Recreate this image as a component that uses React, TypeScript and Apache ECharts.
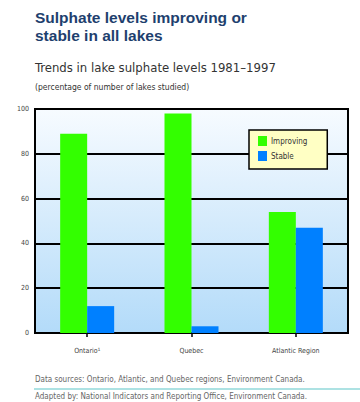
import React, { useEffect, useRef } from "react";
import * as echarts from "echarts";

// Share of lakes studied (%), 1981–1997
const regions = ["Ontario¹", "Quebec", "Atlantic Region"];
const improving = [89, 98, 54];
const stable = [12, 3, 47];
const yTicks = { min: 0, max: 100, interval: 20 };

const titleLines = ["Sulphate levels improving or", "stable in all lakes"];
const subtitle = "Trends in lake sulphate levels 1981–1997";
const unitNote = "(percentage of number of lakes studied)";
const sourceNote = "Data sources: Ontario, Atlantic, and Quebec regions, Environment Canada.";
const adaptedNote = "Adapted by: National Indicators and Reporting Office, Environment Canada.";

const NARROW = '"Liberation Sans Narrow", "DejaVu Sans Condensed", "DejaVu Sans", sans-serif';
const HEAD = '"Liberation Sans", Arial, sans-serif';

export default function App() {
  const ref = useRef<HTMLDivElement>(null);

  useEffect(() => {
    document.body.style.margin = "0";
    if (!ref.current) return;
    const chart = echarts.init(ref.current, undefined, { renderer: "svg" });
    chart.setOption({
      animation: false,
      backgroundColor: "#ffffff",
      grid: {
        left: 35,
        right: 12,
        top: 109,
        bottom: 69,
        show: true,
        borderColor: "#000000",
        borderWidth: 2,
        backgroundColor: new echarts.graphic.LinearGradient(0, 0, 0, 1, [
          { offset: 0, color: "#f7fbff" },
          { offset: 1, color: "#b3dbf9" },
        ]),
      },
      legend: {
        orient: "vertical",
        left: 249,
        top: 130,
        padding: [6, 20, 8, 9],
        itemGap: 5,
        itemWidth: 9,
        itemHeight: 10,
        backgroundColor: "#ffffc4",
        borderColor: "#000000",
        borderWidth: 1.5,
        icon: "rect",
        textStyle: { fontFamily: NARROW, fontSize: 8, color: "#333333", padding: [0, 0, 0, -1] },
        data: ["Improving", "Stable"],
      },
      xAxis: {
        type: "category",
        data: regions,
        axisLine: { show: false },
        axisTick: { show: true, alignWithLabel: true, length: 4, lineStyle: { color: "#000", width: 1.5 } },
        axisLabel: { fontFamily: NARROW, fontSize: 7, color: "#444444", margin: 14 },
      },
      yAxis: {
        type: "value",
        min: yTicks.min,
        max: yTicks.max,
        interval: yTicks.interval,
        axisLine: { show: false },
        axisTick: { show: false },
        axisLabel: { fontFamily: NARROW, fontSize: 7, color: "#444444", margin: 6 },
        splitLine: { show: true, lineStyle: { color: "#000000", width: 2 } },
      },
      series: [
        {
          name: "Improving",
          type: "bar",
          data: improving,
          barWidth: 27,
          barGap: "0%",
          itemStyle: { color: "#33ff00" },
        },
        {
          name: "Stable",
          type: "bar",
          data: stable,
          barWidth: 27,
          barGap: "0%",
          itemStyle: { color: "#0080ff" },
        },
      ],
      graphic: [
        {
          type: "text",
          left: 35,
          top: 9,
          style: { text: titleLines[0], font: `bold 15.5px ${HEAD}`, fill: "#1e3f6e" },
        },
        {
          type: "text",
          left: 35,
          top: 27,
          style: { text: titleLines[1], font: `bold 15.5px ${HEAD}`, fill: "#1e3f6e" },
        },
        {
          type: "text",
          left: 35,
          top: 61,
          style: { text: subtitle, font: `13px ${NARROW}`, fill: "#333333" },
        },
        {
          type: "text",
          left: 35,
          top: 82,
          style: { text: unitNote, font: `8.5px ${NARROW}`, fill: "#333333" },
        },
        {
          type: "text",
          left: 35,
          top: 375,
          style: { text: sourceNote, font: `8px ${NARROW}`, fill: "#666666" },
        },
        {
          type: "line",
          shape: { x1: 34, y1: 389, x2: 360, y2: 389 },
          style: { stroke: "#5cc6c8", lineWidth: 1.2 },
        },
        {
          type: "text",
          left: 35,
          top: 392,
          style: { text: adaptedNote, font: `8px ${NARROW}`, fill: "#666666" },
        },
      ],
    });
    return () => chart.dispose();
  }, []);

  return <div ref={ref} style={{ width: 360, height: 402 }} />;
}
